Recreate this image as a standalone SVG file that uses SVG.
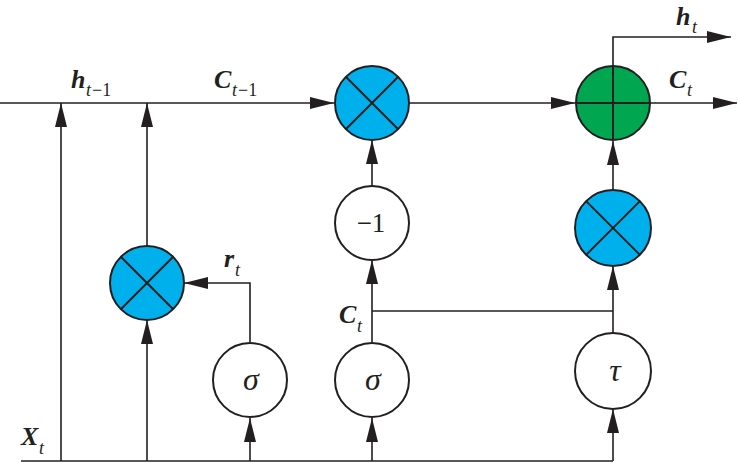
<svg xmlns="http://www.w3.org/2000/svg" width="738" height="463" viewBox="0 0 738 463">
<defs>
<marker id="ah" viewBox="0 0 24 12" refX="24" refY="6" markerWidth="24" markerHeight="12" markerUnits="userSpaceOnUse" orient="auto">
<path d="M0,0 L24,6 L0,12 Z" fill="#231f20"/>
</marker>
</defs>
<style>
.c{stroke:#231f20;stroke-width:2;fill:#fff}
.b{fill:#00b0ec}
.g{fill:#00a650}
.x{stroke:#231f20;stroke-width:2}
.w{stroke:#231f20;stroke-width:1.6;fill:none}
.l{font-family:"Liberation Serif",serif;font-style:italic;font-weight:bold;font-size:26px;fill:#231f20}
.s{font-family:"Liberation Serif",serif;font-style:italic;font-size:18px;fill:#231f20}
.n{font-family:"Liberation Serif",serif;font-size:18px;fill:#231f20}
.t{font-family:"Liberation Serif",serif;font-style:italic;font-size:32px;fill:#231f20;text-anchor:middle}
.u{font-family:"Liberation Serif",serif;font-size:27px;fill:#231f20;text-anchor:middle}
</style>
<g id="connectors">
<path class="w" d="M0,103 H334" marker-end="url(#ah)"/>
<path class="w" d="M408,103 H575" marker-end="url(#ah)"/>
<path class="w" d="M613,66 V37 H731" marker-end="url(#ah)"/>
<path class="w" d="M650,103 H737" marker-end="url(#ah)"/>
<path class="w" d="M21,461 H613"/>
<path class="w" d="M61,461 V103" marker-end="url(#ah)"/>
<path class="w" d="M147,246 V103" marker-end="url(#ah)"/>
<path class="w" d="M147,461 V320" marker-end="url(#ah)"/>
<path class="w" d="M250,342 V283 H184" marker-end="url(#ah)"/>
<path class="w" d="M250,461 V418" marker-end="url(#ah)"/>
<path class="w" d="M372,461 V418" marker-end="url(#ah)"/>
<path class="w" d="M372,342 V260" marker-end="url(#ah)"/>
<path class="w" d="M372,311 H613"/>
<path class="w" d="M372,186 V140" marker-end="url(#ah)"/>
<path class="w" d="M613,461 V409" marker-end="url(#ah)"/>
<path class="w" d="M613,333 V266" marker-end="url(#ah)"/>
<path class="w" d="M613,190 V141" marker-end="url(#ah)"/>
</g>
<g id="mul1">
<circle class="c b" cx="372" cy="103" r="37"/>
<path class="x" d="M345.8,76.8 L398.2,129.2 M398.2,76.8 L345.8,129.2"/>
</g>
<g id="add">
<circle class="c g" cx="613" cy="103" r="37"/>
<path class="x" d="M576,103 H650 M613,66 V140"/>
</g>
<g id="mulL">
<circle class="c b" cx="147" cy="283" r="37"/>
<path class="x" d="M120.8,256.8 L173.2,309.2 M173.2,256.8 L120.8,309.2"/>
</g>
<g id="mulR">
<circle class="c b" cx="613" cy="228" r="38"/>
<path class="x" d="M586.1,201.1 L639.9,254.9 M639.9,201.1 L586.1,254.9"/>
</g>
<g id="neg1">
<circle class="c" cx="372" cy="223" r="37"/>
<text class="u" x="371" y="232">−1</text>
</g>
<g id="sig1">
<circle class="c" cx="250" cy="380" r="37"/>
<text class="t" x="251" y="390">σ</text>
</g>
<g id="sig2">
<circle class="c" cx="372" cy="380" r="37"/>
<text class="t" x="373" y="390">σ</text>
</g>
<g id="tau">
<circle class="c" cx="613" cy="371" r="38"/>
<text class="t" x="615" y="381">τ</text>
</g>
<g id="labels">
<text class="l" x="71" y="88">h</text><text class="s" x="86" y="96">t</text><text class="n" x="92" y="96">−1</text>
<text class="l" x="214" y="88">C</text><text class="s" x="232" y="96">t</text><text class="n" x="238" y="96">−1</text>
<text class="l" x="676" y="25">h</text><text class="s" x="692" y="33">t</text>
<text class="l" x="669" y="88">C</text><text class="s" x="687" y="96">t</text>
<text class="l" x="224" y="267">r</text><text class="s" x="235" y="276">t</text>
<text class="l" x="339" y="323">C</text><text class="s" x="357" y="332">t</text>
<text class="l" x="21" y="445">X</text><text class="s" x="39" y="454">t</text>
</g>
</svg>
